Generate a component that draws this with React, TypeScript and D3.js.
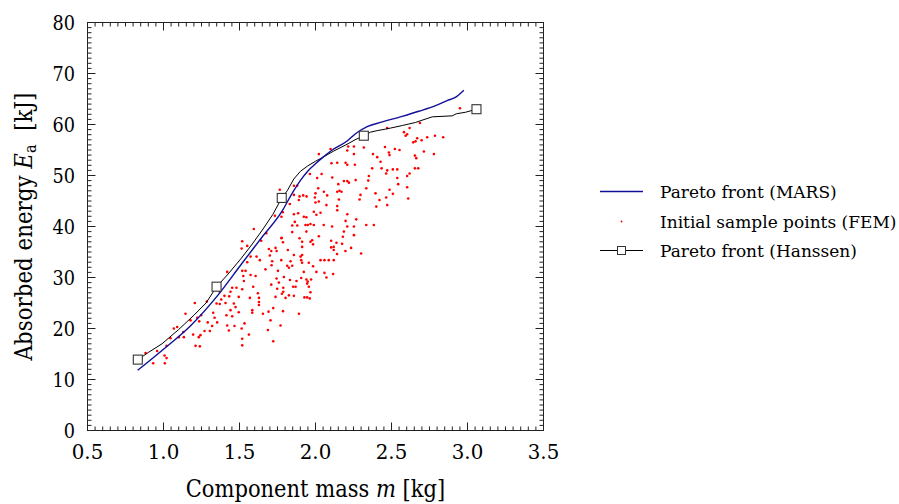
import React from "react";
import * as d3 from "d3";

// Pareto front (MARS) — mass [kg], energy [kJ]
const marsMass = [0.83, 0.99, 1.18, 1.357, 1.507, 1.64, 1.78, 1.85, 1.9, 1.95, 2.0, 2.05, 2.11, 2.21, 2.263, 2.34, 2.44, 2.57, 2.68, 2.79, 2.866, 2.92, 2.976];
const marsEnergy = [11.8, 15.7, 20.6, 26.5, 32.4, 37.6, 43.0, 46.7, 49.0, 50.9, 52.3, 53.6, 55.0, 56.8, 58.2, 59.6, 60.5, 61.6, 62.6, 63.7, 64.7, 65.3, 66.7];

// Pareto front (Hanssen)
const hanssenMass = [0.831, 0.9, 0.99, 1.1, 1.2, 1.28, 1.349, 1.42, 1.507, 1.58, 1.65, 1.72, 1.778, 1.814, 1.857, 1.9, 1.95, 2.0, 2.05, 2.12, 2.2, 2.26, 2.318, 2.362, 2.406, 2.461, 2.494, 2.571, 2.658, 2.707, 2.768, 2.9, 2.926, 2.987, 3.059];
const hanssenEnergy = [13.9, 15.3, 17.0, 19.8, 22.6, 25.0, 28.2, 30.5, 33.6, 36.4, 39.3, 42.4, 45.6, 47.0, 49.3, 50.8, 51.9, 52.8, 53.6, 54.8, 56.0, 57.0, 57.8, 58.5, 58.8, 59.1, 59.3, 59.8, 60.4, 60.9, 61.5, 61.7, 62.1, 62.4, 63.0];
// squares mark these Hanssen points
const hanssenMarkerMass = [0.831, 1.349, 1.778, 2.318, 3.059];
const hanssenMarkerEnergy = [13.9, 28.2, 45.6, 57.8, 63.0];

// Initial sample points (FEM): [mass, energy]
const samplePoints: [number, number][] = [
  [0.882, 15.2], [0.932, 13.2], [0.958, 15.6], [1.007, 14.7], [1.02, 14.2], [1.009, 13.2], [1.02, 16.6], [1.046, 18.1], [1.068, 20.0], [1.09, 20.3],
  [1.452, 28.0], [1.48, 28.0], [1.419, 31.1], [1.441, 27.2], [1.401, 26.4], [1.432, 26.3], [1.38, 25.7], [1.349, 24.9], [1.37, 24.8], [1.408, 25.0],
  [1.463, 24.9], [1.495, 26.2], [1.474, 24.2], [1.495, 23.2], [1.441, 23.6], [1.414, 22.6], [1.452, 22.4], [1.467, 20.5], [1.419, 20.6], [1.43, 19.6],
  [1.327, 23.1], [1.336, 22.1], [1.291, 21.2], [1.353, 21.2], [1.32, 20.5], [1.305, 19.5], [1.27, 19.5], [1.243, 18.7], [1.235, 21.4], [1.222, 22.1],
  [1.248, 22.6], [1.206, 25.0], [1.145, 22.9], [1.178, 21.6], [1.13, 19.3], [1.101, 18.3], [1.195, 18.8], [1.232, 18.3], [1.134, 18.3], [1.211, 16.6],
  [1.239, 16.5], [1.37, 27.2], [1.285, 25.3],
  [1.518, 37.1], [1.643, 37.2], [1.551, 36.2], [1.514, 35.7], [1.612, 34.1], [1.573, 34.1], [1.634, 33.4], [1.551, 33.0], [1.518, 31.3], [1.54, 31.3],
  [1.525, 30.3], [1.529, 29.3], [1.573, 30.5], [1.606, 30.3], [1.59, 28.2], [1.518, 27.7], [1.568, 26.0], [1.621, 26.9], [1.628, 26.0], [1.628, 25.2],
  [1.628, 24.6], [1.584, 23.6], [1.584, 23.1], [1.654, 22.9], [1.691, 23.3], [1.722, 24.0], [1.786, 23.4], [1.704, 21.6], [1.533, 21.0], [1.514, 20.0],
  [1.77, 20.6], [1.687, 19.7], [1.562, 18.8], [1.518, 18.0], [1.722, 17.5], [1.518, 16.7], [1.891, 22.9], [1.693, 35.6], [1.709, 35.2], [1.7, 34.3],
  [1.737, 35.8], [1.744, 35.2], [1.777, 37.8], [1.786, 36.9], [1.818, 35.4], [1.836, 33.2], [1.775, 33.4], [1.715, 33.2], [1.711, 32.4], [1.814, 32.3],
  [1.847, 32.3], [1.858, 34.4], [1.895, 37.7], [1.902, 34.1], [1.906, 33.4], [1.753, 31.3], [1.792, 30.1], [1.744, 29.8], [1.759, 29.0], [1.671, 31.6],
  [1.825, 31.9], [1.875, 29.3], [1.832, 29.5], [1.906, 29.9], [1.788, 28.0], [1.853, 28.2], [1.869, 28.2], [1.709, 28.6], [1.748, 27.8], [1.788, 27.2],
  [1.779, 26.8], [1.825, 26.5], [1.858, 26.4], [1.803, 26.0], [1.737, 26.2],
  [2.022, 54.2], [2.099, 55.2], [2.105, 52.4], [2.11, 49.6], [1.963, 50.3], [2.04, 50.3], [2.011, 49.5], [1.879, 48.0], [1.858, 48.0], [1.765, 47.2],
  [2.018, 47.5], [2.0, 46.5], [2.055, 46.8], [2.077, 46.1], [1.858, 46.2], [1.895, 45.9], [1.919, 46.1], [1.941, 45.9], [1.89, 45.2], [1.831, 44.4],
  [1.996, 45.7], [1.785, 42.8], [1.733, 42.1], [1.776, 41.9], [1.886, 42.6], [1.858, 42.4], [1.864, 40.9], [1.847, 40.2], [1.88, 40.2], [1.847, 38.9],
  [1.594, 39.5], [1.676, 38.7], [1.776, 37.7],
  [2.0, 44.7], [2.022, 44.9], [1.923, 41.9], [1.94, 41.8], [1.989, 42.9], [2.033, 42.7], [2.006, 42.3], [2.072, 44.2], [1.934, 40.3], [1.949, 40.3],
  [1.967, 40.5], [1.989, 40.3], [2.054, 40.3], [2.109, 40.0], [1.94, 39.0], [2.022, 38.1], [1.978, 37.3], [1.967, 37.0], [1.984, 36.5], [2.103, 37.2],
  [2.103, 35.9], [2.12, 36.0], [2.12, 35.4], [2.138, 36.8], [2.175, 36.6], [2.234, 35.8], [2.3, 34.7], [2.197, 35.2], [2.142, 34.6], [1.912, 37.0],
  [1.912, 36.0], [1.912, 34.4], [1.912, 32.9], [1.956, 32.9], [1.984, 32.2], [2.006, 31.1], [2.033, 33.4], [2.059, 33.4], [2.087, 33.4], [2.12, 33.4],
  [2.059, 30.9], [2.072, 30.0], [2.116, 30.7], [1.923, 31.1], [1.94, 29.6], [1.971, 29.6], [1.949, 29.2], [1.945, 28.8], [1.956, 28.2], [1.967, 27.1],
  [1.927, 26.1], [1.945, 26.1], [1.962, 25.9],
  [2.95, 63.2], [2.687, 60.3], [2.619, 59.3], [2.472, 59.3], [2.582, 58.5], [2.603, 58.1], [2.593, 57.8], [2.735, 57.5], [2.786, 57.8], [2.84, 57.5],
  [2.669, 57.3], [2.698, 56.9], [2.643, 56.5], [2.658, 56.7], [2.215, 55.7], [2.253, 55.7], [2.318, 55.5], [2.457, 55.6], [2.522, 55.2], [2.553, 55.0],
  [2.713, 54.7], [2.483, 54.5], [2.487, 54.0], [2.779, 54.2], [2.654, 53.9], [2.663, 53.4], [2.209, 54.9], [2.253, 54.2], [2.378, 54.2], [2.406, 53.6],
  [2.428, 52.7], [2.143, 52.5], [2.198, 52.5], [2.209, 52.1], [2.259, 52.1], [2.373, 51.4], [2.435, 51.4], [2.472, 51.0], [2.465, 50.4], [2.509, 51.2],
  [2.538, 51.2], [2.654, 51.4], [2.676, 51.4], [2.603, 49.9], [2.619, 50.4], [2.351, 49.9], [2.187, 48.9], [2.209, 48.9], [2.22, 48.6], [2.264, 49.1],
  [2.347, 49.0], [2.538, 49.5], [2.544, 48.3], [2.487, 47.2], [2.15, 48.3], [2.143, 46.8], [2.158, 47.0], [2.171, 46.8], [2.334, 47.5], [2.603, 47.7],
  [2.395, 46.5], [2.509, 46.4], [2.61, 45.5], [2.296, 46.2], [2.29, 45.3], [2.421, 45.2], [2.465, 45.7], [2.154, 45.3], [2.472, 44.2], [2.4, 43.9],
  [2.143, 44.0], [2.143, 43.2], [2.209, 42.4], [2.268, 41.4], [2.198, 41.1], [2.209, 40.0], [2.253, 40.0], [2.334, 40.3], [2.384, 40.3], [2.187, 39.0],
  [2.253, 38.3], [2.18, 38.0],
];

const xTicks = [0.5, 1.0, 1.5, 2.0, 2.5, 3.0, 3.5];
const yTicks = [0, 10, 20, 30, 40, 50, 60, 70, 80];
const legendLabels = ["Pareto front (MARS)", "Initial sample points (FEM)", "Pareto front (Hanssen)"];

const W = 899, H = 504;
const L = 87.5, R = 543.5, T = 22.5, B = 430.5;
const FONT = "DejaVu Serif";
const BLUE = "#10109a";

// width a tick label takes in a Times-like face at the reference size
const tickWidth = (s: string) => s.split("").reduce((a, c) => a + (c === "." ? 0.25 : 0.5), 0) * 22.5;

export default function App() {
  const x = d3.scaleLinear().domain([0.5, 3.5]).range([L, R]);
  const y = d3.scaleLinear().domain([0, 80]).range([B, T]);

  const xMinor = d3.range(0, 61).map((i) => 0.5 + i * 0.05).filter((v) => !xTicks.some((t) => Math.abs(t - v) < 1e-6));
  const yMinor = d3.range(0, 81).filter((v) => v % 10 !== 0);

  const mars = d3.line<number>().x((_, i) => x(marsMass[i])).y((_, i) => y(marsEnergy[i])).curve(d3.curveMonotoneX);
  const hans = d3.line<number>().x((_, i) => x(hanssenMass[i])).y((_, i) => y(hanssenEnergy[i]));

  const MAJ = 8, MIN = 4;
  const fmtX = d3.format(".1f");

  return (
    <svg width={W} height={H} style={{ position: "absolute", left: 0, top: 0, background: "#fff" }}>
      <rect x={0} y={0} width={W} height={H} fill="#fff" />
      <g>
        {samplePoints.map(([m, e], i) => (
          <circle key={i} cx={x(m)} cy={y(e)} r={1.3} fill="#ff0000" />
        ))}
      </g>
      <path d={hans(hanssenMass) || ""} fill="none" stroke="#000" strokeWidth={1} />
      <path d={mars(marsMass) || ""} fill="none" stroke={BLUE} strokeWidth={1.4} />
      {hanssenMarkerMass.map((m, i) => (
        <rect key={i} x={x(m) - 4.5} y={y(hanssenMarkerEnergy[i]) - 4.5} width={9} height={9} fill="#fff" stroke="#333" strokeWidth={1.1} />
      ))}

      <rect x={L} y={T} width={R - L} height={B - T} fill="none" stroke="#222" strokeWidth={1} />
      <g stroke="#222" strokeWidth={1}>
        {xTicks.map((t) => (
          <g key={"xt" + t}>
            <line x1={x(t)} x2={x(t)} y1={B} y2={B - MAJ} />
            <line x1={x(t)} x2={x(t)} y1={T} y2={T + MAJ} />
          </g>
        ))}
        {xMinor.map((t, i) => (
          <g key={"xm" + i}>
            <line x1={x(t)} x2={x(t)} y1={B} y2={B - MIN} />
            <line x1={x(t)} x2={x(t)} y1={T} y2={T + MIN} />
          </g>
        ))}
        {yTicks.map((t) => (
          <g key={"yt" + t}>
            <line x1={L} x2={L + MAJ} y1={y(t)} y2={y(t)} />
            <line x1={R} x2={R - MAJ} y1={y(t)} y2={y(t)} />
          </g>
        ))}
        {yMinor.map((t) => (
          <g key={"ym" + t}>
            <line x1={L} x2={L + MIN} y1={y(t)} y2={y(t)} />
            <line x1={R} x2={R - MIN} y1={y(t)} y2={y(t)} />
          </g>
        ))}
      </g>
      <g fontSize={20.5} fill="#000" fontFamily={FONT}>
        {xTicks.map((t) => {
          const s = fmtX(t);
          const w = tickWidth(s) * 1.12;
          return (
            <text key={"xl" + t} x={x(t) - w / 2} y={459} textLength={w} lengthAdjust="spacingAndGlyphs">{s}</text>
          );
        })}
        {yTicks.map((t) => {
          const s = String(t);
          const w = tickWidth(s);
          return (
            <text key={"yl" + t} x={75 - w} y={y(t)} dy="0.36em" textLength={w} lengthAdjust="spacingAndGlyphs">{s}</text>
          );
        })}
      </g>
      <g transform={`translate(${(L + R) / 2}, 497) scale(0.895, 1)`}>
        <text textAnchor="middle" fontSize={23.5} fill="#000" fontFamily={FONT}>
          Component mass <tspan fontStyle="italic">m</tspan> [kg]
        </text>
      </g>
      <g transform={`translate(32, ${(T + B) / 2}) rotate(-90) scale(0.91, 1)`}>
        <text textAnchor="middle" fontSize={23.5} fill="#000" fontFamily={FONT}>
          Absorbed energy <tspan fontStyle="italic">E</tspan>
          <tspan fontSize={16} dy={4}>a</tspan>
          <tspan dy={-4}>{"\u00a0 [kJ]"}</tspan>
        </text>
      </g>

      <g fontSize={17} fill="#000" fontFamily={FONT}>
        <line x1={600} x2={643} y1={191.5} y2={191.5} stroke={BLUE} strokeWidth={1.4} />
        <text x={660} y={198}>{legendLabels[0]}</text>
        <circle cx={621.5} cy={221.5} r={0.9} fill="#ff0000" />
        <text x={660} y={228}>{legendLabels[1]}</text>
        <line x1={600} x2={643} y1={250.5} y2={250.5} stroke="#000" strokeWidth={1} />
        <rect x={617.5} y={246.5} width={8} height={8} fill="#fff" stroke="#333" strokeWidth={1} />
        <text x={660} y={257}>{legendLabels[2]}</text>
      </g>
    </svg>
  );
}
